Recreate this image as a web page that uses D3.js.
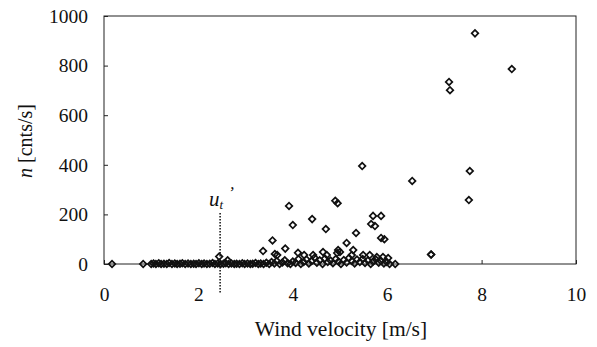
<!DOCTYPE html>
<html>
<head>
<meta charset="utf-8">
<script src="https://cdn.jsdelivr.net/npm/d3@7"></script>
<style>
  body { margin: 0; background: #fff; }
  svg { display: block; }
</style>
</head>
<body>
<svg id="chart" width="597" height="347"></svg>
<script>
// ---- data ----
const xTicks = [0, 2, 4, 6, 8, 10];
const yTicks = [0, 200, 400, 600, 800, 1000];
const thresholdVelocity = 2.46;  // u_t'

// elevated points: wind velocity [m/s], counts [cnts/s]
const windHigh = [7.86, 8.64, 7.31, 7.33, 7.75, 7.73, 6.53, 6.93, 5.47, 4.90, 4.95, 3.92, 4.00, 4.41, 4.70, 3.57,
  5.34, 5.14, 5.70, 5.87, 5.66, 5.74, 5.87, 5.94, 3.37, 3.62, 3.67, 3.84, 4.11, 4.24, 4.43, 4.64, 4.72, 4.94, 4.96,
  5.28, 5.00, 5.25, 5.49, 5.63, 5.78, 5.91, 6.02, 6.93];
const countsHigh = [930, 786, 734, 701, 375, 258, 335, 38, 395, 255, 245, 234, 157, 181, 141, 95,
  125, 85, 194, 194, 161, 153, 105, 100, 52, 40, 36, 62, 45, 36, 36, 48, 36, 44, 56,
  56, 48, 36, 36, 36, 28, 28, 24, 38];

// points near zero
const windLow = [0.17, 0.83, 2.44, 2.62, 6.17,
  1.00, 1.05, 1.10, 1.16, 1.21, 1.27, 1.33, 1.38, 1.44, 1.50, 1.55, 1.61, 1.66, 1.72, 1.78, 1.84, 1.90, 1.95,
  2.01, 2.07, 2.12, 2.18, 2.24, 2.30, 2.35, 2.41, 2.47, 2.53, 2.58, 2.64, 2.70, 2.76, 2.81, 2.87, 2.93, 2.98,
  3.04, 3.10, 3.15, 3.21, 3.27, 3.32, 3.38, 3.44, 3.50, 3.55, 3.61, 3.66, 3.72, 3.78, 3.83, 3.89, 3.95,
  4.00, 4.06, 4.12, 4.17, 4.23, 4.29, 4.34, 4.40, 4.46, 4.51, 4.57, 4.63, 4.68, 4.74, 4.80, 4.85, 4.91, 4.97,
  5.02, 5.08, 5.14, 5.19, 5.25, 5.31, 5.36, 5.42, 5.48, 5.53, 5.59, 5.65, 5.70, 5.76, 5.82, 5.87, 5.93, 5.99, 6.05];
const countsLow = [0, 0, 30, 15, 0,
  0, 2, 0, 3, 0, 1, 0, 4, 0, 2, 0, 1, 3, 0, 2, 0, 1, 0,
  3, 0, 2, 0, 1, 4, 0, 2, 0, 1, 3, 0, 2, 0, 1, 0, 3, 0,
  2, 0, 1, 4, 0, 2, 0, 5, 0, 8, 2, 12, 0, 6, 15, 3, 0,
  10, 4, 20, 0, 8, 18, 2, 12, 25, 5, 15, 0, 22, 8, 14, 3, 20, 10,
  0, 16, 6, 24, 12, 2, 18, 8, 20, 4, 14, 0, 10, 18, 5, 12, 2, 8, 0];

// ---- layout ----
const FONT = "Liberation Serif";
const svg = d3.select("#chart");
const plotL = 104, plotR = 576, plotT = 16, plotB = 264;

const x = d3.scaleLinear().domain([0, 10]).range([plotL, plotR]);
const y = d3.scaleLinear().domain([0, 1000]).range([plotB, plotT]);

// plot frame
svg.append("rect")
  .attr("x", plotL).attr("y", plotT)
  .attr("width", plotR - plotL).attr("height", plotB - plotT)
  .attr("fill", "none").attr("stroke", "#222").attr("stroke-width", 1);

// axes
const tickFont = 19.5;
const xAxis = d3.axisBottom(x).tickValues(xTicks).tickFormat(d3.format("d"))
  .tickSizeInner(-4).tickSizeOuter(0).tickPadding(23);
const gx = svg.append("g").attr("transform", `translate(0,${plotB})`).call(xAxis)
  .attr("font-family", FONT).attr("font-size", tickFont);
gx.select(".domain").remove();
gx.selectAll("line").attr("stroke", "#222");
gx.selectAll("text").attr("fill", "#111");

const yAxis = d3.axisLeft(y).tickValues(yTicks).tickFormat(d3.format("d"))
  .tickSizeInner(-4).tickSizeOuter(0).tickPadding(16);
const gy = svg.append("g").attr("transform", `translate(${plotL},0)`).call(yAxis)
  .attr("font-family", FONT).attr("font-size", tickFont);
gy.select(".domain").remove();
gy.selectAll("line").attr("stroke", "#222");
gy.selectAll("text").attr("fill", "#111");

// axis titles
svg.append("text")
  .attr("x", 341).attr("y", 336)
  .attr("text-anchor", "middle")
  .attr("font-size", 21.5).attr("font-family", FONT).attr("fill", "#111")
  .text("Wind velocity [m/s]");

const yt = svg.append("text")
  .attr("transform", "translate(32,141) rotate(-90)")
  .attr("text-anchor", "middle")
  .attr("font-size", 20).attr("font-family", FONT).attr("fill", "#111");
yt.append("tspan").attr("font-style", "italic").text("n");
yt.append("tspan").text("\u00a0[cnts/s]");

// threshold line u_t'
svg.append("line")
  .attr("x1", x(thresholdVelocity)).attr("x2", x(thresholdVelocity))
  .attr("y1", 213).attr("y2", 294)
  .attr("stroke", "#111").attr("stroke-width", 1.5)
  .attr("stroke-dasharray", "1.5,1.5");

const ut = svg.append("text")
  .attr("x", x(thresholdVelocity) - 11).attr("y", 206)
  .attr("font-size", 21).attr("font-family", FONT).attr("font-style", "italic").attr("fill", "#111");
ut.append("tspan").text("u");
ut.append("tspan").attr("font-size", 13).attr("dy", 3).text("t");
ut.append("tspan").attr("font-size", 17).attr("dy", -11).attr("dx", 5).text("\u2019");

// points
const pts = windLow.map((w, i) => ({ w, n: countsLow[i] }))
  .concat(windHigh.map((w, i) => ({ w, n: countsHigh[i] })));
const sym = d3.symbol().type(d3.symbolSquare).size(22);
svg.append("g").selectAll("path")
  .data(pts)
  .join("path")
  .attr("d", sym)
  .attr("transform", d => `translate(${x(d.w)},${y(d.n)}) rotate(45)`)
  .attr("fill", "none")
  .attr("stroke", "#111")
  .attr("stroke-width", 1.7);
</script>
</body>
</html>
